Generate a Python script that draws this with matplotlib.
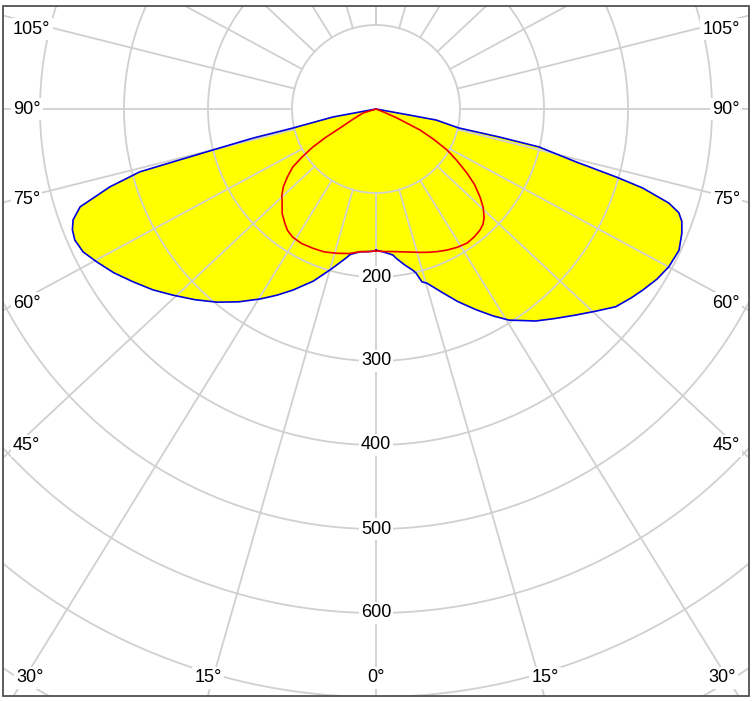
import numpy as np
import matplotlib
matplotlib.use("Agg")
import matplotlib.pyplot as plt
from matplotlib.patches import Rectangle

# ---------------- data (gamma in degrees from nadir, intensity in cd) ----------------
c0_gamma = [0, 3.5, 6.6, 7.6, 10.5, 12.9, 13.7, 14.9, 16.3, 20.0, 23.0, 26.5, 29.5,
            32.2, 37.0, 40.5, 44.2, 47.5, 50.5, 53.5, 55.9, 58.8, 61.7, 65.0, 67.9,
            69.8, 71.1, 72.2, 73.5, 74.2, 75.2, 76.9, 77.2, 77.1, 79.6, 79.7, 90]
c0_int = [168, 171, 175, 179, 189, 197, 201, 213, 216, 233, 249, 267, 283,
          297, 316, 328, 342, 356, 370, 378, 384, 391, 396, 398, 393,
          388, 381, 366, 331, 297, 246, 199, 150, 101, 73, 40, 0]

c180_gamma = [0, 3.0, 6.4, 10.1, 11.1, 13.5, 15.9, 20.0, 24.6, 28.0, 31.4, 35.5,
              39.5, 43.5, 47.5, 51.0, 54.6, 58.0, 61.3, 64.0, 66.5, 68.3, 69.9,
              71.7, 73.7, 75.1, 75.4, 75.9, 76.7, 77.1, 79.5, 90]
c180_int = [169, 170, 171, 176, 180, 189, 199, 218, 237, 251, 265, 282,
            298, 313, 328, 342, 355, 368, 379, 388, 391, 389, 384,
            371, 330, 291, 250, 200, 150, 101, 52, 0]

c90_gamma = [0, 3.5, 7.0, 10.5, 14.5, 17.5, 20.5, 23.5, 26.7, 30.5, 34.2, 37.5,
             40.7, 43.0, 45.0, 47.5, 49.8, 52.5, 54.9, 57.5, 60.0, 62.2, 64.5,
             66.8, 68.5, 90]
c90_int = [169, 170, 171, 173, 176, 179, 182, 185, 188, 191, 193, 192,
           190, 187, 182, 173, 162, 148, 132, 114, 98, 78, 58,
           27, 10, 0]

c270_gamma = [0, 3.0, 6.4, 10.5, 15.2, 20.0, 24.4, 29.0, 33.0, 36.0, 38.6, 42.0,
              45.0, 47.5, 50.0, 52.5, 55.1, 57.0, 58.9, 60.5, 62.2, 66.0, 72.9, 90]
c270_int = [169, 170, 171, 175, 178, 181, 182, 183, 182, 179, 174, 167,
            158, 152, 144, 133, 121, 105, 88, 70, 48, 30, 16, 0]

ring_values = [200, 300, 400, 500, 600]
spoke_angles = list(range(-180, 181, 15))
left_labels = ["105°", "90°", "75°", "60°", "45°"]
bottom_labels = ["30°", "15°", "0°", "15°", "30°"]

# ---------------- figure geometry ----------------
W, H = 754, 701
CX, CY = 376, 109          # pole in pixels
S = 0.84                   # pixels per cd

fig = plt.figure(figsize=(W / 100, H / 100), dpi=100)
ax = fig.add_axes([0, 0, 1, 1])
ax.set_xlim((0 - CX) / S, (W - CX) / S)
ax.set_ylim((CY - H) / S, (CY - 0) / S)
ax.set_aspect("equal")
ax.axis("off")

def px2d(x, y):
    return (x - CX) / S, (CY - y) / S

fx0, fy1 = px2d(3, 6)
fx1, fy0 = px2d(749, 696)
frame = Rectangle((fx0, fy0), fx1 - fx0, fy1 - fy0, fill=False,
                  ec="#505050", lw=1.3, zorder=6)
clip = Rectangle((fx0, fy0), fx1 - fx0, fy1 - fy0, transform=ax.transData)

def curve_xy(g_right, i_right, g_left, i_left):
    gr = np.radians(g_right); ir = np.asarray(i_right, float)
    gl = np.radians(g_left)[::-1]; il = np.asarray(i_left, float)[::-1]
    x = np.concatenate([ir * np.sin(gr), -il * np.sin(gl)])
    y = np.concatenate([-ir * np.cos(gr), -il * np.cos(gl)])
    return x, y

bx, by = curve_xy(c0_gamma, c0_int, c180_gamma, c180_int)
rx, ry = curve_xy(c90_gamma, c90_int, c270_gamma, c270_int)

YEL = "#FFFF00"
ax.fill(bx, by, color=YEL, lw=0, zorder=1)
ax.fill(rx, ry, color=YEL, lw=0, zorder=1)

# ---------------- grid ----------------
GRID = "#D0D0D0"
th = np.linspace(0, 2 * np.pi, 721)
for r in range(100, 1100, 100):
    ln, = ax.plot(r * np.cos(th), r * np.sin(th), color=GRID, lw=1.3, zorder=2)
    ln.set_clip_path(clip)

k = 0.935
for a in spoke_angles:
    ar = np.radians(a)
    d = np.array([np.sin(ar), -k * np.cos(ar)])
    d /= np.hypot(*d)
    ln, = ax.plot([100 * d[0], 1500 * d[0]], [100 * d[1], 1500 * d[1]],
                  color=GRID, lw=1.3, zorder=2)
    ln.set_clip_path(clip)

# ---------------- curves ----------------
ax.plot(np.append(bx, bx[0]), np.append(by, by[0]), color="#0000E0", lw=1.2,
        zorder=3, solid_joinstyle="round")
ax.plot(np.append(rx, rx[0]), np.append(ry, ry[0]), color="#EE0000", lw=1.2,
        zorder=3, solid_joinstyle="round")

ax.add_patch(frame)

# ---------------- labels ----------------
FONT = dict(family="Liberation Sans", fontsize=13, color="#000000", zorder=5)
BB = dict(boxstyle="square,pad=0.12", fc="white", ec="none")

for v in ring_values:
    ax.text(0, -v, str(v), ha="center", va="center", bbox=BB, **FONT)

side_y = [29, 109, 200, 303, 446]
for lab, yy in zip(left_labels, side_y):
    ax.text(13 / W, 1 - yy / H, lab, ha="left", va="center",
            transform=ax.transAxes, bbox=BB, **FONT)
    ax.text(740 / W, 1 - yy / H, lab, ha="right", va="center",
            transform=ax.transAxes, bbox=BB, **FONT)

bottom_x = [30, 208, 376, 545, 722]
for lab, xx in zip(bottom_labels, bottom_x):
    ax.text(xx / W, 1 - 678 / H, lab, ha="center", va="center",
            transform=ax.transAxes, bbox=BB, **FONT)

fig.savefig("out.png", dpi=100, facecolor="white")
